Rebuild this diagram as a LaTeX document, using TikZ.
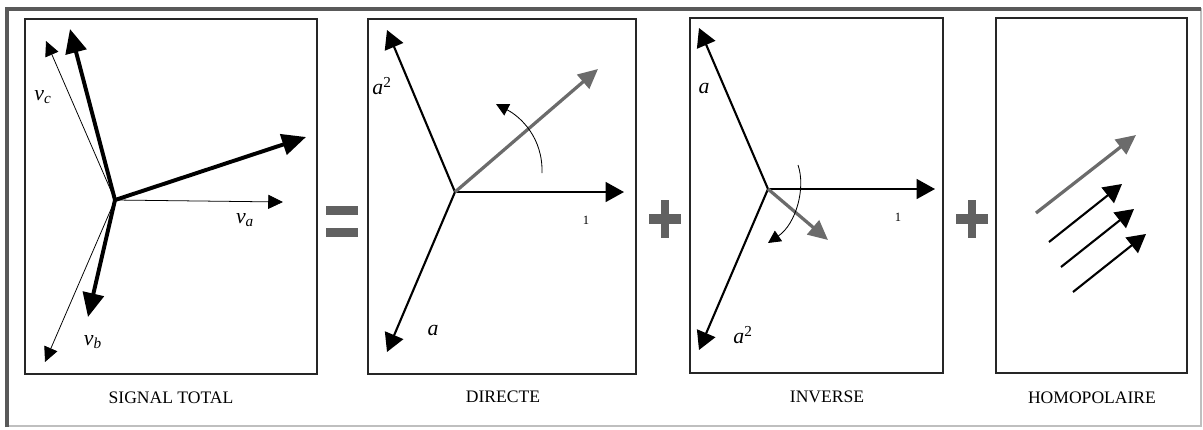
\documentclass[tikz,border=0pt]{standalone}
\usepackage{fontspec}
\setmainfont{Liberation Serif}
\usepackage{xcolor}
\usetikzlibrary{arrows.meta}

\begin{document}
\begin{tikzpicture}[x=0.025cm, y=-0.025cm,
  panel/.style={draw=black!85, line width=0.8pt},
  thinvec/.style={draw, line width=0.55pt, -{Triangle[length=10.5pt, width=10pt]}},
  thickvec/.style={draw, line width=2.8pt, -{Triangle[length=17pt, width=15pt]}},
  vec/.style={draw, line width=1.5pt, -{Triangle[length=13pt, width=14pt]}},
  grayvec/.style={draw=black!58, line width=2.3pt, -{Triangle[length=14pt, width=13pt]}},
  turn/.style={draw, line width=0.6pt, -{Triangle[length=9pt, width=9pt]}},
  sign/.style={fill=black!62},
  lbl/.style={font=\fontsize{15.5}{17}\selectfont\itshape, inner sep=0pt},
  unit/.style={font=\fontsize{9}{10}\selectfont, inner sep=0pt},
  caption/.style={font=\fontsize{12.5}{14}\selectfont, inner sep=0pt}]
  \useasboundingbox (0,0) rectangle (1203,429);

  % Outer frame: light right and bottom, dark top and left
  \draw[black!25, line width=0.8pt] (7,9) rectangle (1201,426);
  \draw[black!65, line width=2.4pt] (7,427) -- (7,9) -- (1201,9);

  % The four panels
  \draw[panel] (25,19) rectangle (317,374);
  \draw[panel] (368,19) rectangle (636,374);
  \draw[panel] (690,18) rectangle (943,373);
  \draw[panel] (996,18) rectangle (1187,373);

  % Equal sign and plus signs between the panels
  \fill[sign] (326,206) rectangle (358,215);
  \fill[sign] (326,228) rectangle (358,237);
  \foreach \cx in {665,972} {
    \fill[sign] (\cx-4,200) rectangle (\cx+4,238);
    \fill[sign] (\cx-16,214) rectangle (\cx+16,224);
  }

  % Signal total: balanced star (thin) and unbalanced one (thick)
  \coordinate (o1) at (115,200);
  \coordinate (va) at (283,202);
  \coordinate (vb) at (45,362);
  \coordinate (vc) at (46,41);
  \coordinate (ta) at (306,137);
  \coordinate (tb) at (88,317);
  \coordinate (tc) at (70,29);
  \draw[thinvec] (o1) -- (va);
  \draw[thinvec] (o1) -- (vb);
  \draw[thinvec] (o1) -- (vc);
  \draw[thickvec] (o1) -- (ta);
  \draw[thickvec] (o1) -- (tb);
  \draw[thickvec] (o1) -- (tc);
  \node[lbl] (lva) at (245,220) {v\textsubscript{a}};
  \node[lbl] (lvb) at (93,342) {v\textsubscript{b}};
  \node[lbl] (lvc) at (43,97) {v\textsubscript{c}};

  % Direct sequence
  \coordinate (o2) at (455,192);
  \coordinate (d1) at (624,192);
  \coordinate (da2) at (387,30);
  \coordinate (da) at (387,352);
  \coordinate (dg) at (598,69);
  \draw[vec] (o2) -- (d1);
  \draw[vec] (o2) -- (da2);
  \draw[vec] (o2) -- (da);
  \draw[grayvec] (o2) -- (dg);
  \coordinate (ds) at (542,173);
  \coordinate (de) at (496,104);
  \draw[turn] (ds) .. controls (543,138) and (521,117) .. (de);
  \node[lbl] (lda2) at (382,86) {a\textsuperscript{\upshape 2}};
  \node[lbl] (lda) at (433,330) {a};
  \node[unit] (ld1) at (586,220) {1};

  % Inverse sequence
  \coordinate (o3) at (768,189);
  \coordinate (i1) at (935,189);
  \coordinate (ia) at (699,28);
  \coordinate (ia2) at (699,350);
  \coordinate (ig) at (828,240);
  \draw[vec] (o3) -- (i1);
  \draw[vec] (o3) -- (ia);
  \draw[vec] (o3) -- (ia2);
  \draw[grayvec] (o3) -- (ig);
  \coordinate (is) at (798,165);
  \coordinate (ie) at (768,243);
  \draw[turn] (is) .. controls (806,188) and (796,224) .. (ie);
  \node[lbl] (lia) at (704,88) {a};
  \node[lbl] (lia2) at (743,335) {a\textsuperscript{\upshape 2}};
  \node[unit] (li1) at (898,217) {1};

  % Zero sequence: parallel vectors
  \coordinate (hs) at (1036,213);
  \coordinate (he) at (1136,135);
  \draw[grayvec] (hs) -- (he);
  \foreach \k in {0,1,2} {
    \coordinate (h\k s) at (1049+12*\k,242+25*\k);
    \coordinate (h\k e) at (1122+12*\k,184+25*\k);
    \draw[vec] (h\k s) -- (h\k e);
  }

  % Captions
  \node[caption] (cap1) at (171,398) {SIGNAL TOTAL};
  \node[caption] (cap2) at (503,397) {DIRECTE};
  \node[caption] (cap3) at (827,397) {INVERSE};
  \node[caption] (cap4) at (1092,398) {HOMOPOLAIRE};
\end{tikzpicture}
\end{document}
